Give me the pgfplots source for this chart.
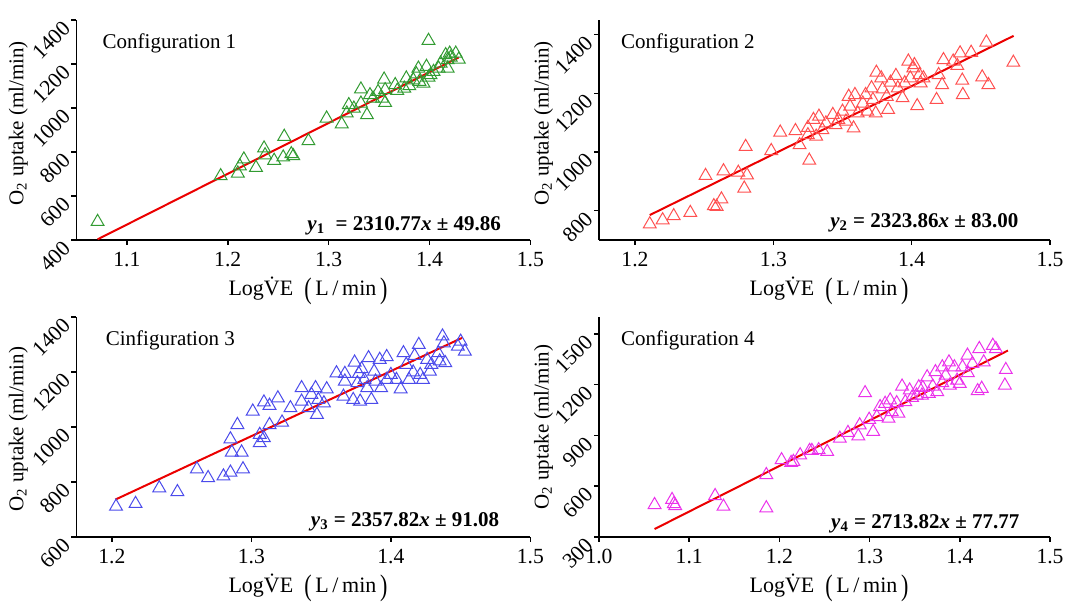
\documentclass[border=0pt]{standalone}
\usepackage{fontspec}
\setmainfont{Liberation Serif}
\usepackage{pgfplots}
\pgfplotsset{compat=1.18}

\definecolor{cgreen}{RGB}{50,155,50}
\definecolor{cred}{RGB}{255,80,80}
\definecolor{cblue}{RGB}{75,75,235}
\definecolor{cmag}{RGB}{235,50,235}
\definecolor{fitred}{RGB}{235,0,0}

\newcommand{\xlab}{Log\.{V}E\enspace\raisebox{-0.14em}{\scalebox{1}[1.35]{(}}\,L\,/\,min\,\raisebox{-0.14em}{\scalebox{1}[1.35]{)}}}

\tikzset{
  cfg/.style={anchor=west, inner sep=0pt, font=\fontsize{10.5}{12}\selectfont},
  eqn/.style={anchor=east, inner sep=0pt, font=\fontsize{10.5}{12}\selectfont\bfseries},
}
\pgfplotsset{
  panel/.style={
    scale only axis, anchor=south west,
    height=110pt,
    axis lines*=left,
    axis line style={line width=0.8pt},
    tick align=outside, major tick length=2.5pt,
    tick style={line width=0.8pt, black},
    font=\fontsize{10.8}{12}\selectfont,
    /pgf/number format/assume math mode=true,
    /pgf/number format/1000 sep={},
    xticklabel style={/pgf/number format/fixed,/pgf/number format/fixed zerofill,/pgf/number format/precision=1},
    yticklabel style={rotate=45, anchor=east},
    xlabel style={at={(axis description cs:0.51,0)}, anchor=center, yshift=-25.5pt, font=\fontsize{11}{12}\selectfont},
    ylabel style={anchor=center, font=\fontsize{10.5}{12}\selectfont},
    xlabel={\xlab},
    ylabel={O\textsubscript{2} uptake (ml/min)},
    clip=false,
  },
  pts/.style={only marks, mark=triangle, mark size=3.7pt, mark options={line width=0.5pt}},
  fit/.style={no marks, line width=1pt, color=fitred},
}

\begin{document}
\begin{tikzpicture}
\path[use as bounding box] (0,0) rectangle (535.5pt,302.5pt);

% Configuration 1
\begin{axis}[panel, at={(38.2pt,182.5pt)}, width=227pt,
  xmin=1.05, xmax=1.5, ymin=400, ymax=1400,
  xtick={1.1,1.2,1.3,1.4,1.5}, ytick={400,600,800,1000,1200,1400},
  ylabel style={at={(axis description cs:-0.128,0.53)}}]
\addplot[pts, color=cgreen] coordinates {
(1.071,483) (1.193,691) (1.210,703) (1.212,736) (1.216,767) (1.228,729)
(1.236,817) (1.237,786) (1.246,761) (1.256,870) (1.255,776) (1.263,791)
(1.265,782) (1.280,850) (1.298,953) (1.313,927) (1.318,976) (1.320,1014)
(1.325,998) (1.332,1085) (1.332,1021) (1.338,968) (1.341,1059) (1.344,1044)
(1.349,1074) (1.353,1044) (1.355,1130) (1.356,1024) (1.356,1082) (1.366,1105)
(1.368,1079) (1.375,1089) (1.377,1135) (1.380,1100) (1.384,1127) (1.387,1154)
(1.389,1180) (1.390,1120) (1.394,1112) (1.397,1188) (1.399,1306) (1.401,1150)
(1.399,1139) (1.404,1165) (1.409,1180) (1.411,1203) (1.416,1241) (1.418,1218)
(1.418,1180) (1.420,1248) (1.421,1230) (1.426,1248) (1.429,1221)
};
\addplot[fit] coordinates {(1.071,403) (1.429,1230)};
\node[cfg] at (axis description cs:0.057,0.895) {Configuration 1};
\node[eqn] at (axis description cs:0.936,0.066) {\textit{y}\textsubscript{1}\ \ = 2310.77\textit{x} ± 49.86};
\end{axis}

% Configuration 2
\begin{axis}[panel, at={(299.5pt,182.5pt)}, width=225.5pt,
  xmin=1.174, xmax=1.5, ymin=700, ymax=1450,
  xtick={1.2,1.3,1.4,1.5}, ytick={800,1000,1200,1400},
  ylabel style={at={(axis description cs:-0.123,0.53)}}]
\addplot[pts, color=cred] coordinates {
(1.2107,754) (1.220,768) (1.228,782) (1.240,793) (1.251,919) (1.257,816)
(1.259,814) (1.2625,839) (1.264,935) (1.2747,930) (1.279,876) (1.280,1018)
(1.281,921) (1.2985,1004) (1.305,1067) (1.316,1072) (1.319,1024) (1.325,1083)
(1.326,971) (1.325,1058) (1.329,1110) (1.331,1053) (1.333,1121) (1.3355,1075)
(1.338,1098) (1.343,1127) (1.345,1092) (1.347,1110) (1.350,1138) (1.3525,1104)
(1.3545,1189) (1.3555,1155) (1.358,1081) (1.359,1195) (1.361,1132) (1.3647,1166)
(1.3667,1195) (1.368,1138) (1.371,1218) (1.372,1178) (1.374,1132) (1.3745,1271)
(1.378,1252) (1.379,1214) (1.382,1189) (1.383,1144) (1.3847,1237) (1.3886,1260)
(1.390,1218) (1.3934,1184) (1.395,1235) (1.3976,1309) (1.399,1252) (1.4012,1286)
(1.402,1297) (1.404,1157) (1.4056,1263) (1.4065,1235) (1.4085,1252) (1.418,1178)
(1.4195,1263) (1.422,1229) (1.423,1314) (1.430,1309) (1.433,1294) (1.435,1337)
(1.4366,1244) (1.437,1195) (1.443,1339) (1.451,1255) (1.454,1374) (1.4555,1229)
(1.4735,1305)
};
\addplot[fit] coordinates {(1.2107,785) (1.4737,1396)};
\node[cfg] at (axis description cs:0.048,0.895) {Configuration 2};
\node[eqn] at (axis description cs:0.931,0.08) {\textit{y}\textsubscript{2} = 2323.86\textit{x} ± 83.00};
\end{axis}

% Configuration 3
\begin{axis}[panel, at={(38.2pt,34pt)}, width=227pt,
  xmin=1.1746, xmax=1.5, ymin=600, ymax=1400,
  xtick={1.2,1.3,1.4,1.5}, ytick={600,800,1000,1200,1400},
  ylabel style={at={(axis description cs:-0.128,0.49)}}]
\addplot[pts, color=cblue] coordinates {
(1.203,711) (1.217,721) (1.234,778) (1.247,764) (1.261,847) (1.269,815)
(1.280,821) (1.285,835) (1.294,847) (1.285,956) (1.290,1008) (1.286,908)
(1.293,908) (1.301,1057) (1.306,972) (1.306,942) (1.309,960) (1.309,1090)
(1.313,1078) (1.313,1008) (1.319,1105) (1.322,1017) (1.328,1069) (1.336,1142)
(1.336,1093) (1.341,1069) (1.343,1118) (1.346,1142) (1.347,1045) (1.348,1099)
(1.352,1087) (1.354,1138) (1.361,1196) (1.366,1111) (1.367,1166) (1.367,1194)
(1.373,1099) (1.374,1235) (1.376,1160) (1.378,1093) (1.379,1211) (1.381,1172)
(1.383,1142) (1.384,1251) (1.386,1099) (1.388,1202) (1.389,1166) (1.392,1245)
(1.393,1142) (1.397,1255) (1.400,1190) (1.404,1172) (1.407,1138) (1.409,1269)
(1.411,1227) (1.413,1172) (1.417,1259) (1.420,1299) (1.421,1190) (1.423,1172)
(1.426,1245) (1.429,1227) (1.434,1269) (1.435,1239) (1.437,1330) (1.438,1305)
(1.439,1233) (1.448,1293) (1.450,1311) (1.453,1275) (1.416,1199) (1.428,1202)
(1.377,1194) (1.397,1172)
};
\addplot[fit] coordinates {(1.2025,736) (1.451,1324)};
\node[cfg] at (axis description cs:0.064,0.895) {Cinfiguration 3};
\node[eqn] at (axis description cs:0.932,0.07) {\textit{y}\textsubscript{3} = 2357.82\textit{x} ± 91.08};
\end{axis}

% Configuration 4
\begin{axis}[panel, at={(299.5pt,34pt)}, width=225.5pt,
  xmin=1.0, xmax=1.5, ymin=300, ymax=1600,
  xtick={1.0,1.1,1.2,1.3,1.4,1.5}, ytick={300,600,900,1200,1500},
  ylabel style={at={(axis description cs:-0.123,0.5)}}]
\addplot[pts, color=cmag] coordinates {
(1.0616,490) (1.081,520) (1.083,496) (1.0845,484) (1.1287,543) (1.138,480)
(1.1855,667) (1.1855,471) (1.2024,755) (1.213,739) (1.2155,745) (1.223,784)
(1.2335,810) (1.236,810) (1.2435,814) (1.253,804) (1.267,882) (1.276,916)
(1.2875,896) (1.289,961) (1.295,1151) (1.2995,994) (1.304,922) (1.308,1010)
(1.3116,1069) (1.3172,1088) (1.321,1000) (1.3228,1108) (1.3246,1039) (1.330,1092)
(1.332,1030) (1.336,1190) (1.3396,1098) (1.3444,1167) (1.347,1124) (1.352,1137)
(1.3545,1186) (1.358,1137) (1.3638,1245) (1.3657,1147) (1.370,1190) (1.373,1275)
(1.375,1157) (1.3806,1210) (1.3843,1255) (1.388,1333) (1.389,1196) (1.394,1304)
(1.397,1225) (1.400,1206) (1.403,1304) (1.4085,1373) (1.409,1269) (1.414,1324)
(1.4198,1163) (1.4216,1412) (1.4243,1177) (1.4265,1333) (1.4366,1431) (1.440,1412)
(1.451,1288) (1.450,1196) (1.3806,1304) (1.359,1182)
};
\addplot[fit] coordinates {(1.0616,347) (1.4534,1402)};
\node[cfg] at (axis description cs:0.048,0.895) {Configuration 4};
\node[eqn] at (axis description cs:0.933,0.062) {\textit{y}\textsubscript{4} = 2713.82\textit{x} ± 77.77};
\end{axis}
\end{tikzpicture}
\end{document}
